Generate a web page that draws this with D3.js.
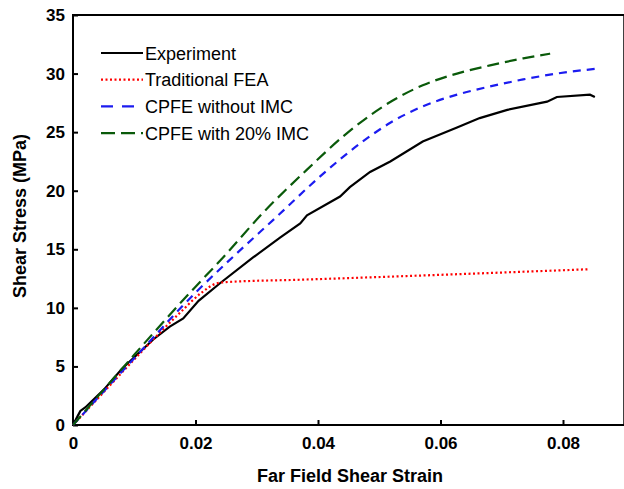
<!DOCTYPE html>
<html lang="en">
<head>
    <meta charset="UTF-8">
    <title>Shear Stress vs Far Field Shear Strain</title>
    <script src="https://d3js.org/d3.v7.min.js"></script>
    <style>
        body { margin: 0; background: #fff; }
        svg { display: block; font-family: "Liberation Sans", Arial, sans-serif; }
    </style>
</head>
<body>
    <div id="chart"></div>
    <script>
        // series data: [strain, stress MPa]
        const experiment = [[0,0],[0.0008,0.8],[0.0012,1.2],[0.002,1.5],[0.005,3.0],[0.008,4.8],[0.0131,7.3],
            [0.0158,8.4],[0.018,9.1],[0.0205,10.6],[0.024,12.1],[0.0294,14.3],[0.0338,16.0],[0.0371,17.2],
            [0.0382,17.9],[0.0436,19.5],[0.0452,20.3],[0.0485,21.6],[0.0518,22.5],[0.0571,24.2],[0.0627,25.4],
            [0.0664,26.2],[0.0709,26.9],[0.0774,27.6],[0.079,28.0],[0.0844,28.2],[0.0852,28.0]];
        const traditionalFEA = [[0,0],[0.005,2.8],[0.01,5.6],[0.0131,7.3],[0.0175,9.6],[0.021,11.3],
            [0.0235,12.1],[0.025,12.2],[0.037,12.4],[0.0844,13.3]];
        const cpfeNoIMC = [[0,0],[0.01,5.7],[0.0202,11.4],[0.0256,14.1],[0.0333,17.8],[0.0403,21.2],
            [0.0473,24.2],[0.0518,25.8],[0.0571,27.2],[0.0627,28.2],[0.0681,28.9],[0.0735,29.5],
            [0.079,30.0],[0.0852,30.4]];
        const cpfeIMC20 = [[0,0],[0.005,3.0],[0.01,6.0],[0.0191,11.3],[0.0245,14.3],[0.031,18.1],
            [0.0382,21.8],[0.0447,24.9],[0.0522,27.7],[0.0571,29.0],[0.0627,30.0],[0.0681,30.7],
            [0.0735,31.3],[0.0779,31.7]];

        const xTicks = [0, 0.02, 0.04, 0.06, 0.08];
        const yTicks = [0, 5, 10, 15, 20, 25, 30, 35];
        const labels = ["Experiment", "Traditional FEA", "CPFE without IMC", "CPFE with 20% IMC"];

        const width = 624, height = 489;
        const marginLeft = 73, plotTop = 15, plotBottom = 425;

        const svg = d3.select("#chart").append("svg")
            .attr("width", width)
            .attr("height", height);

        const x = d3.scaleLinear().domain([0, 0.09]).range([marginLeft, marginLeft + 0.09 / 0.02 * 122.5]);
        const y = d3.scaleLinear().domain([0, 35]).range([plotBottom, plotTop]);

        // frame (right side is cut off in the original)
        svg.append("rect")
            .attr("x", x(0)).attr("y", y(35))
            .attr("width", x(0.09) - x(0)).attr("height", y(0) - y(35))
            .attr("fill", "none").attr("stroke", "#000").attr("stroke-width", 2);

        // axes, ticks pointing inward
        const xAxis = svg.append("g")
            .attr("transform", `translate(0,${plotBottom})`)
            .call(d3.axisBottom(x).tickValues(xTicks).tickSizeInner(-5).tickSizeOuter(0)
                .tickPadding(12).tickFormat(d => d === 0 ? "0" : d3.format(".2f")(d)));
        const yAxis = svg.append("g")
            .attr("transform", `translate(${marginLeft},0)`)
            .call(d3.axisLeft(y).tickValues(yTicks).tickSizeInner(-5).tickSizeOuter(0).tickPadding(8));

        [xAxis, yAxis].forEach(g => {
            g.select(".domain").remove();
            g.selectAll(".tick line").attr("stroke", "#000").attr("stroke-width", 2);
            g.selectAll(".tick text")
                .attr("font-family", "Liberation Sans, Arial, sans-serif")
                .attr("font-size", 17).attr("font-weight", "bold").attr("fill", "#000");
        });

        // axis titles
        svg.append("text")
            .attr("x", 350).attr("y", 482)
            .attr("text-anchor", "middle")
            .attr("font-size", 18).attr("font-weight", "bold")
            .text("Far Field Shear Strain");
        svg.append("text")
            .attr("transform", "translate(26,216) rotate(-90)")
            .attr("text-anchor", "middle")
            .attr("font-size", 18).attr("font-weight", "bold")
            .text("Shear Stress (MPa)");

        const series = [
            { data: experiment, color: "#000000", dash: null, curve: d3.curveLinear },
            { data: traditionalFEA, color: "#ff0000", dash: "2,2.5", curve: d3.curveMonotoneX },
            { data: cpfeNoIMC, color: "#1c1cf0", dash: "8,6", curve: d3.curveMonotoneX },
            { data: cpfeIMC20, color: "#0a5a0a", dash: "12,6", curve: d3.curveMonotoneX }
        ];

        series.forEach(s => {
            const line = d3.line().x(d => x(d[0])).y(d => y(d[1])).curve(s.curve);
            svg.append("path")
                .datum(s.data)
                .attr("d", line)
                .attr("fill", "none")
                .attr("stroke", s.color)
                .attr("stroke-width", 2.2)
                .attr("stroke-dasharray", s.dash);
        });

        // legend
        const legend = svg.append("g");
        series.forEach((s, i) => {
            const ly = 53 + i * 26.7;
            legend.append("line")
                .attr("x1", 101).attr("x2", 143)
                .attr("y1", ly).attr("y2", ly)
                .attr("stroke", s.color).attr("stroke-width", 2.2)
                .attr("stroke-dasharray", i === 2 ? "12,9" : i === 3 ? "14,6" : s.dash);
            legend.append("text")
                .attr("x", 145).attr("y", ly + 6.5)
                .attr("font-size", 18)
                .text(labels[i]);
        });
    </script>
</body>
</html>
